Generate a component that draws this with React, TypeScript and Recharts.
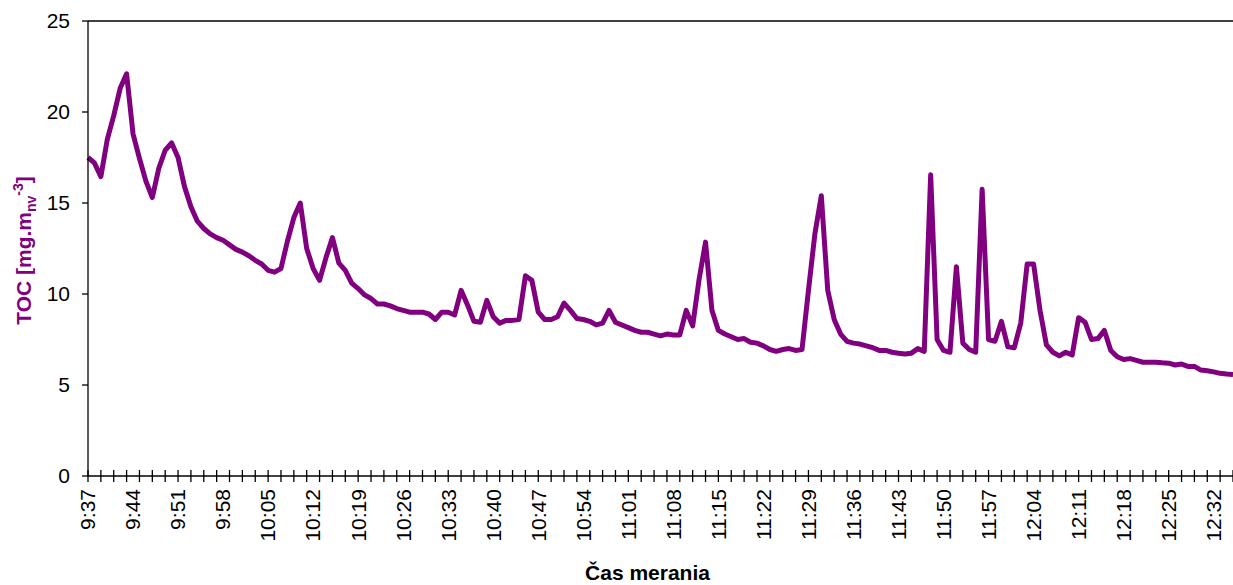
import React from 'react';
import { LineChart, Line, XAxis, YAxis, Label, ReferenceLine } from 'recharts';

// minute-by-minute measurement times
const times = [
  '9:37', '9:38', '9:39', '9:40', '9:41', '9:42', '9:43', '9:44', '9:45', '9:46',
  '9:47', '9:48', '9:49', '9:50', '9:51', '9:52', '9:53', '9:54', '9:55', '9:56',
  '9:57', '9:58', '9:59', '10:00', '10:01', '10:02', '10:03', '10:04', '10:05', '10:06',
  '10:07', '10:08', '10:09', '10:10', '10:11', '10:12', '10:13', '10:14', '10:15', '10:16',
  '10:17', '10:18', '10:19', '10:20', '10:21', '10:22', '10:23', '10:24', '10:25', '10:26',
  '10:27', '10:28', '10:29', '10:30', '10:31', '10:32', '10:33', '10:34', '10:35', '10:36',
  '10:37', '10:38', '10:39', '10:40', '10:41', '10:42', '10:43', '10:44', '10:45', '10:46',
  '10:47', '10:48', '10:49', '10:50', '10:51', '10:52', '10:53', '10:54', '10:55', '10:56',
  '10:57', '10:58', '10:59', '11:00', '11:01', '11:02', '11:03', '11:04', '11:05', '11:06',
  '11:07', '11:08', '11:09', '11:10', '11:11', '11:12', '11:13', '11:14', '11:15', '11:16',
  '11:17', '11:18', '11:19', '11:20', '11:21', '11:22', '11:23', '11:24', '11:25', '11:26',
  '11:27', '11:28', '11:29', '11:30', '11:31', '11:32', '11:33', '11:34', '11:35', '11:36',
  '11:37', '11:38', '11:39', '11:40', '11:41', '11:42', '11:43', '11:44', '11:45', '11:46',
  '11:47', '11:48', '11:49', '11:50', '11:51', '11:52', '11:53', '11:54', '11:55', '11:56',
  '11:57', '11:58', '11:59', '12:00', '12:01', '12:02', '12:03', '12:04', '12:05', '12:06',
  '12:07', '12:08', '12:09', '12:10', '12:11', '12:12', '12:13', '12:14', '12:15', '12:16',
  '12:17', '12:18', '12:19', '12:20', '12:21', '12:22', '12:23', '12:24', '12:25', '12:26',
  '12:27', '12:28', '12:29', '12:30', '12:31', '12:32', '12:33', '12:34', '12:35',
];

// TOC [mg.m_nv^-3]
const toc = [
  17.5, 17.2, 16.45, 18.5, 19.8, 21.3, 22.1, 18.8, 17.45, 16.2,
  15.3, 16.9, 17.9, 18.3, 17.5, 15.9, 14.8, 14.0, 13.6, 13.3,
  13.1, 12.95, 12.7, 12.45, 12.3, 12.1, 11.85, 11.65, 11.3, 11.2,
  11.4, 12.9, 14.2, 15.0, 12.5, 11.4, 10.75, 12.0, 13.1, 11.7,
  11.3, 10.6, 10.3, 9.95, 9.75, 9.45, 9.45, 9.35, 9.2, 9.1,
  9.0, 9.0, 9.0, 8.9, 8.6, 9.0, 9.0, 8.85, 10.2, 9.4,
  8.5, 8.45, 9.65, 8.75, 8.4, 8.55, 8.55, 8.6, 11.0, 10.75,
  9.0, 8.6, 8.6, 8.75, 9.5, 9.1, 8.65, 8.6, 8.5, 8.3,
  8.4, 9.1, 8.45, 8.3, 8.15, 8.0, 7.9, 7.9, 7.8, 7.7,
  7.8, 7.75, 7.75, 9.1, 8.25, 10.8, 12.85, 9.1, 8.0, 7.8,
  7.65, 7.5, 7.55, 7.35, 7.3, 7.15, 6.95, 6.85, 6.95, 7.0,
  6.9, 6.95, 10.2, 13.3, 15.4, 10.2, 8.6, 7.8, 7.4, 7.3,
  7.25, 7.15, 7.05, 6.9, 6.9, 6.8, 6.75, 6.7, 6.75, 7.0,
  6.85, 16.55, 7.5, 6.9, 6.8, 11.5, 7.3, 6.95, 6.8, 15.75,
  7.5, 7.4, 8.5, 7.1, 7.05, 8.4, 11.65, 11.65, 9.1, 7.2,
  6.8, 6.6, 6.8, 6.65, 8.7, 8.45, 7.5, 7.55, 8.0, 6.9,
  6.55, 6.4, 6.45, 6.35, 6.25, 6.25, 6.25, 6.22, 6.2, 6.1,
  6.15, 6.02, 6.02, 5.82, 5.78, 5.72, 5.64, 5.6, 5.58,
];

const yTicks = [0, 5, 10, 15, 20, 25];

const data = times.map((t, i) => ({ time: t, toc: toc[i] }));

const FONT = "Arial, 'Liberation Sans', sans-serif";

// tick marks every 2 minutes, labels every 7 minutes
const TimeTick = (props: any) => {
  const { x, y, payload, index } = props;
  const ly = y + 13;
  return (
    <g>
      {index % 2 === 0 && (
        <line x1={x} x2={x} y1={y - 6} y2={y + 6} stroke="#000" strokeWidth={1.3} />
      )}
      {index % 7 === 0 && (
        <text
          x={x}
          y={ly}
          transform={`rotate(-90 ${x} ${ly})`}
          textAnchor="end"
          dy="0.35em"
          fontSize={21}
          fontFamily={FONT}
          fill="#000"
        >
          {payload.value}
        </text>
      )}
    </g>
  );
};

const YTitle = (props: any) => {
  const vb = props.viewBox || { x: 0, y: 21, width: 88, height: 455 };
  const cx = 31;
  const cy = vb.y + vb.height / 2 + 2;
  return (
    <text
      x={cx}
      y={cy}
      transform={`rotate(-90 ${cx} ${cy})`}
      textAnchor="middle"
      fontSize={21}
      fontWeight="bold"
      fontFamily={FONT}
      fill="#800080"
    >
      <tspan>TOC [mg.m</tspan>
      <tspan fontSize={14} dy={5}>nv</tspan>
      <tspan fontSize={14} dy={-13}>-3</tspan>
      <tspan dy={8}>]</tspan>
    </text>
  );
};

const App = () => {
  return (
    <div style={{ position: 'absolute', left: 0, top: 0, background: '#fff' }}>
      <LineChart
        width={1233}
        height={585}
        data={data}
        margin={{ top: 21, right: 0, left: 0, bottom: 0 }}
      >
        <XAxis
          dataKey="time"
          interval={0}
          height={109}
          tickSize={0}
          tickMargin={0}
          tickLine={false}
          tick={<TimeTick />}
          axisLine={{ stroke: '#000', strokeWidth: 1.3 }}
          padding={{ left: 0, right: 0 }}
        >
          <Label
            value="Čas merania"
            position="insideBottom"
            offset={5}
            dx={-13}
            style={{ fontSize: 21, fontWeight: 'bold', fontFamily: FONT, fill: '#000' }}
          />
        </XAxis>
        <YAxis
          width={88}
          domain={[0, 25]}
          ticks={yTicks}
          interval={0}
          tickSize={6}
          tickMargin={12}
          allowDataOverflow
          axisLine={{ stroke: '#000', strokeWidth: 1.3 }}
          tickLine={{ stroke: '#000', strokeWidth: 1.3 }}
          tick={{ fontSize: 21, fontFamily: FONT, fill: '#000' }}
        >
          <Label content={<YTitle />} />
        </YAxis>
        <ReferenceLine y={25} stroke="#000" strokeWidth={1.3} />
        <Line
          type="linear"
          dataKey="toc"
          stroke="#800080"
          strokeWidth={5}
          strokeLinejoin="round"
          dot={false}
          activeDot={false}
          isAnimationActive={false}
        />
      </LineChart>
    </div>
  );
};

export default App;
